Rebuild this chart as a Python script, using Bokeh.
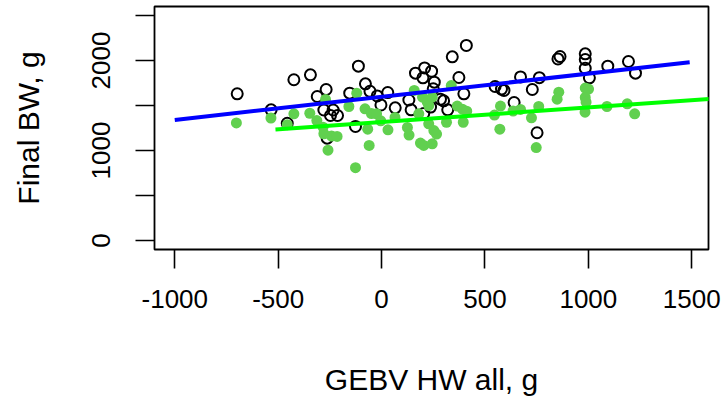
from bokeh.plotting import figure
from bokeh.models import Range1d, FixedTicker
from bokeh.embed import file_html
from bokeh.resources import INLINE

# Group 1 (open black circles): GEBV HW all (g) vs Final BW (g)
black_x = [-698, -534, -456, -424, -344, -311, -268, -279, -234, -247, -213, -263,
           -154, -126, -112, -78, -56, -21, 30, -3, 66, 132, 143, 164, 208, 242,
           200, 255, 250, 237, 285, 300, 320, 204, 342, 410, 374, 398, 549, 580,
           592, 641, 672, 729, 763, 752, 853, 863, 985, 985, 985, 1005, 1094, 1194, 1228]
black_y = [1630, 1452, 1303, 1786, 1841, 1600, 1678, 1450, 1450, 1389, 1389, 1137,
           1637, 1267, 1937, 1741, 1658, 1606, 1644, 1506, 1474, 1561, 1452, 1859, 1917, 1881,
           1808, 1759, 1686, 1483, 1570, 1552, 1452, 1411, 2041, 2167, 1811, 1630, 1711, 1683,
           1667, 1533, 1817, 1678, 1809, 1197, 2017, 2044, 2074, 2011, 1914, 1808, 1937, 1989, 1859]

# Group 2 (filled green points)
green_x = [-702, -535, -424, -456, -347, -271, -313, -283, -279, -242, -215, -259,
           -158, -126, -120, -80, -67, -60, -49, -24, -4, 31, 65, 158, 125, 133,
           188, 204, 245, 180, 198, 221, 228, 245, 228, 253, 266, 314, 337, 366,
           391, 412, 395, 546, 575, 572, 636, 672, 725, 760, 748, 857, 849, 985,
           1001, 985, 989, 984, 1090, 1188, 1224]
green_y = [1306, 1361, 1408, 1287, 1414, 1567, 1333, 1259, 1186, 1161, 1156, 1003,
           1489, 809, 1637, 1463, 1237, 1056, 1411, 1408, 1330, 1230, 1367, 1667, 1256, 1172,
           1083, 1056, 1074, 1408, 1592, 1537, 1500, 1592, 1297, 1222, 1183, 1314, 1722, 1494,
           1459, 1436, 1314, 1394, 1494, 1237, 1439, 1456, 1363, 1489, 1033, 1648, 1570, 1694,
           1683, 1589, 1537, 1426, 1489, 1519, 1408]

# Fitted lines (end points)
blue_line_x = [-1000, 1490]
blue_line_y = [1340, 1980]
green_line_x = [-513, 1600]
green_line_y = [1233, 1576]

x_ticks = [-1000, -500, 0, 500, 1000, 1500]
x_tick_labels = ["-1000", "-500", "0", "500", "1000", "1500"]
y_ticks = [0, 500, 1000, 1500, 2000, 2500]
y_tick_labels = ["0", "", "1000", "", "2000", ""]

FONT = "Liberation Sans"

p = figure(width=723, height=401, output_backend="svg", toolbar_location=None,
           x_range=Range1d(-1098, 1581), y_range=Range1d(-100, 2600),
           min_border_left=154, min_border_right=15, min_border_top=6,
           min_border_bottom=152,
           x_axis_label="GEBV HW all, g", y_axis_label="Final BW, g")
p.grid.visible = False
p.outline_line_color = "black"
p.outline_line_width = 1.8
p.background_fill_color = "white"
p.border_fill_color = "white"

for ax in (p.xaxis[0], p.yaxis[0]):
    ax.axis_line_color = None
    ax.major_tick_in = 0
    ax.major_tick_out = 19
    ax.major_tick_line_width = 1.6
    ax.major_tick_line_color = "black"
    ax.minor_tick_line_color = None
    ax.major_label_text_font = FONT
    ax.major_label_text_font_size = "26px"
    ax.major_label_text_color = "black"
    ax.axis_label_text_font = FONT
    ax.axis_label_text_font_size = "30px"
    ax.axis_label_text_font_style = "normal"
    ax.axis_label_text_color = "black"

p.xaxis.ticker = FixedTicker(ticks=x_ticks)
p.yaxis.ticker = FixedTicker(ticks=y_ticks)
p.xaxis.major_label_overrides = {t: l for t, l in zip(x_ticks, x_tick_labels)}
p.yaxis.major_label_overrides = {t: l for t, l in zip(y_ticks, y_tick_labels)}
p.yaxis.major_label_orientation = "vertical"
p.xaxis.major_label_standoff = 21
p.yaxis.major_label_standoff = 26
p.xaxis.axis_label_standoff = 52
p.yaxis.axis_label_standoff = 44

p.scatter(black_x, black_y, marker="circle", size=11, fill_color=None,
          line_color="black", line_width=2)
p.scatter(green_x, green_y, marker="circle", size=11, fill_color="#61D04F",
          line_color=None)
p.line(blue_line_x, blue_line_y, line_color="#0000FF", line_width=4)
p.line(green_line_x, green_line_y, line_color="#00FF00", line_width=4)

open("out.html", "w").write(file_html(p, INLINE))
